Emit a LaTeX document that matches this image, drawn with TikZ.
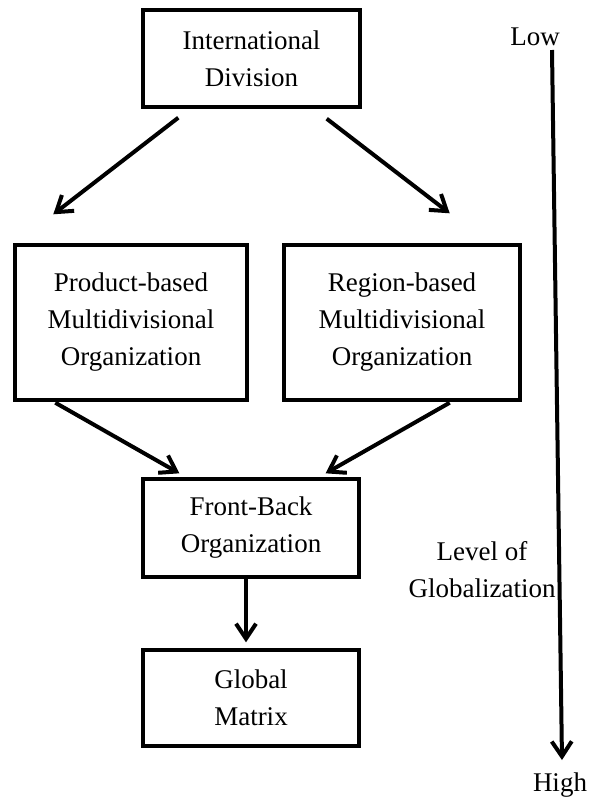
\documentclass[tikz,border=0pt]{standalone}
\usepackage{fontspec}
\setmainfont{Liberation Serif}
\usetikzlibrary{arrows.meta}
\begin{document}
\begin{tikzpicture}[x=1pt,y=-1pt,
  txt/.style={align=center,font=\fontsize{27}{37}\selectfont,inner sep=0pt},
  box/.style={txt,draw,line width=3.4pt},
  arr/.style={line width=4pt,-{Straight Barb[length=15pt,width=20pt,line width=4pt]}}]
\useasboundingbox (0,0) rectangle (596,801);
\node[box,minimum width=217pt,minimum height=97pt] (intl) at (251.5,58.5) {International\\Division};
\node[box,minimum width=232pt,minimum height=155pt] (prod) at (131,322.5) {Product-based\\Multidivisional\\Organization};
\node[box,minimum width=236pt,minimum height=155pt] (regn) at (402,322.5) {Region-based\\Multidivisional\\Organization};
\node[box,minimum width=216pt,minimum height=98pt] (front) at (251,528) {Front-Back\\Organization};
\node[box,minimum width=216pt,minimum height=96pt] (glob) at (251,698) {Global\\Matrix};
\draw[arr] ([shift={(37,9)}]intl.south west) -- ([shift={(40,-29)}]prod.north west);
\draw[arr] ([shift={(-35,10)}]intl.south east) -- ([shift={(-72,-30)}]regn.north east);
\draw[arr] ([shift={(42,1)}]prod.south west) -- ([shift={(38,-4)}]front.north west);
\draw[arr] ([shift={(-72,1)}]regn.south east) -- ([shift={(-35,-4)}]front.north east);
\draw[arr] ([shift={(-5,0)}]front.south) -- ([shift={(-5,-6)}]glob.north);
\node[txt] (low) at (535,37) {Low};
\node[txt] (high) at (560,785) {High};
\node[txt] (level) at (482,570) {Level of\\Globalization};
\coordinate (vtop) at (552,50);
\coordinate (vbot) at (562,760);
\draw[arr] (vtop) -- (vbot);
\end{tikzpicture}
\end{document}
